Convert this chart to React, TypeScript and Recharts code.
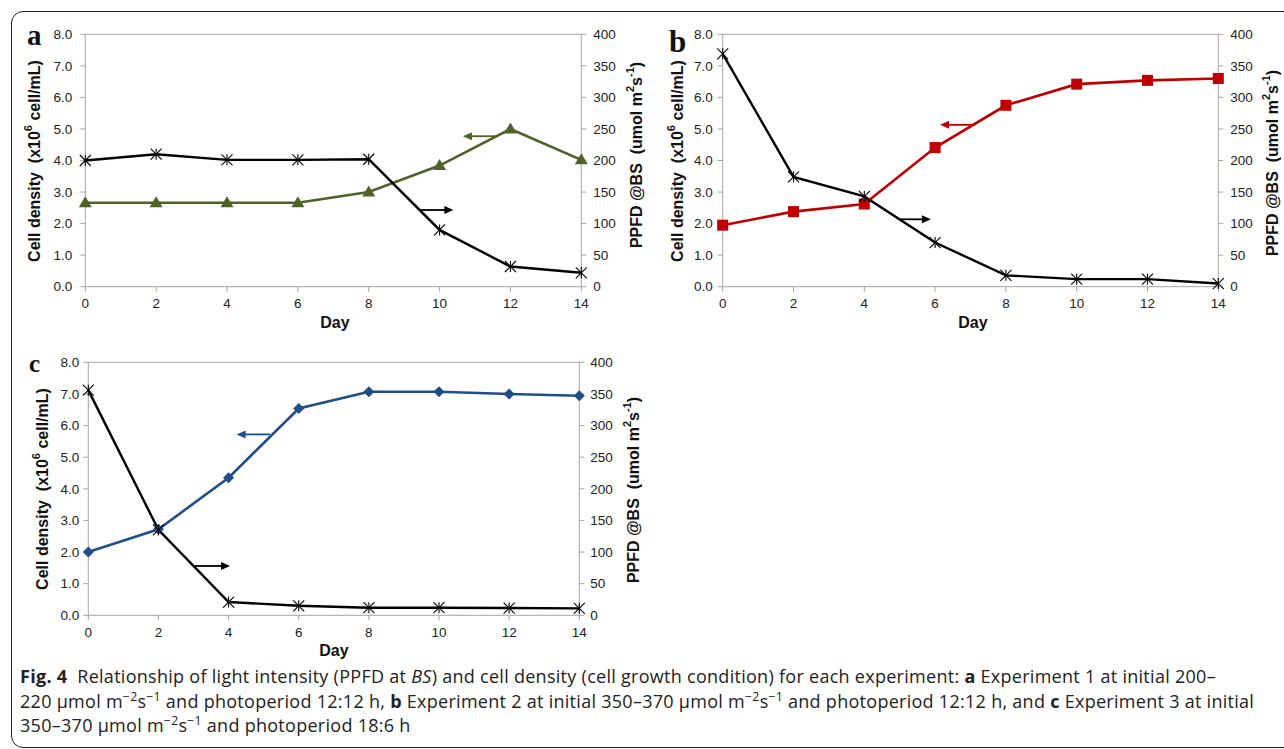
import React from 'react'
import { LineChart, Line, XAxis, YAxis, ReferenceLine } from 'recharts'

const days = [0, 2, 4, 6, 8, 10, 12, 14]
const dayTicks = [0, 2, 4, 6, 8, 10, 12, 14]
const cellTicks = [0, 1, 2, 3, 4, 5, 6, 7, 8]
const ppfdTicks = [0, 50, 100, 150, 200, 250, 300, 350, 400]

// experiment 1
const cellsA = [2.66, 2.66, 2.66, 2.66, 3.0, 3.84, 5.0, 4.02]
const ppfdA = [200, 210, 201, 201, 202, 90, 32, 22]
// experiment 2
const cellsB = [1.95, 2.38, 2.62, 4.41, 5.75, 6.42, 6.54, 6.6]
const ppfdB = [369, 174, 143, 70, 18, 12, 12, 5]
// experiment 3
const cellsC = [2.0, 2.72, 4.35, 6.54, 7.07, 7.07, 7.0, 6.94]
const ppfdC = [356, 135, 21, 15, 12, 12, 11.5, 11]

// arrows pointing to the axis each series belongs to: [fromDay, toDay, value]
const arrowCellA = [11.61, 10.66, 4.77]
const arrowPpfdA = [9.43, 10.39, 121.5]
const arrowCellB = [7.13, 6.14, 5.13]
const arrowPpfdB = [4.96, 5.88, 106.8]
const arrowCellC = [5.18, 4.23, 5.72]
const arrowPpfdC = [3.04, 4.04, 78]

const AXIS = '#a6a6a6'
const FONT = '"Liberation Sans", Arial, Helvetica, sans-serif'
const GREEN = '#4f6228'
const RED = '#c00000'
const BLUE = '#1f4e89'

const toRows = (cells: number[], ppfd: number[]) =>
  days.map((d, i) => ({ day: d, cells: cells[i], ppfd: ppfd[i] }))

const Star = (p: any) => {
  const { cx, cy } = p
  if (cx == null || cy == null) return <g key={p.index} />
  const r = 5.5
  return (
    <g key={p.index} stroke="#000" strokeWidth={1.1}>
      <line x1={cx - r} y1={cy - r} x2={cx + r} y2={cy + r} />
      <line x1={cx - r} y1={cy + r} x2={cx + r} y2={cy - r} />
      <line x1={cx} y1={cy - r} x2={cx} y2={cy + r} />
    </g>
  )
}

const Triangle = (p: any) => {
  const { cx, cy } = p
  return (
    <polygon
      key={p.index}
      points={`${cx},${cy - 6.5} ${cx - 6.5},${cy + 4.5} ${cx + 6.5},${cy + 4.5}`}
      fill={GREEN}
    />
  )
}

const Square = (p: any) => {
  const { cx, cy } = p
  return <rect key={p.index} x={cx - 5.5} y={cy - 5.5} width={11} height={11} fill={RED} />
}

const Diamond = (p: any) => {
  const { cx, cy } = p
  return (
    <polygon
      key={p.index}
      points={`${cx},${cy - 5.5} ${cx + 5.5},${cy} ${cx},${cy + 5.5} ${cx - 5.5},${cy}`}
      fill={BLUE}
    />
  )
}

const arrowShape = (color: string) => (p: any) => {
  const { x1, y1, x2, y2 } = p
  const dir = x2 > x1 ? 1 : -1
  return (
    <g>
      <line x1={x1} y1={y1} x2={x2 - dir * 6} y2={y2} stroke={color} strokeWidth={1.8} />
      <polygon
        points={`${x2},${y2} ${x2 - dir * 9},${y2 - 4} ${x2 - dir * 9},${y2 + 4}`}
        fill={color}
      />
    </g>
  )
}

interface PanelProps {
  rows: { day: number; cells: number; ppfd: number }[]
  color: string
  dot: any
  arrowCell: number[]
  arrowPpfd: number[]
  width: number
  height: number
  margin: { top: number; right: number; bottom: number; left: number }
  leftTickMargin: number
  rightTickMargin: number
}

function Panel({ rows, color, dot, arrowCell, arrowPpfd, width, height, margin, leftTickMargin, rightTickMargin }: PanelProps) {
  const tick = { fontSize: 13.5, fill: '#222', fontFamily: FONT }
  return (
    <LineChart width={width} height={height} data={rows} margin={margin}>
      <XAxis
        dataKey="day"
        type="number"
        domain={[0, 14]}
        ticks={dayTicks}
        tick={tick}
        tickSize={5}
        tickMargin={7}
        height={40}
        stroke={AXIS}
        interval={0}
      />
      <YAxis
        yAxisId="left"
        domain={[0, 8]}
        ticks={cellTicks}
        tickFormatter={(v: number) => v.toFixed(1)}
        tick={tick}
        tickSize={5}
        tickMargin={leftTickMargin}
        width={66}
        stroke={AXIS}
        interval={0}
      />
      <YAxis
        yAxisId="right"
        orientation="right"
        domain={[0, 400]}
        ticks={ppfdTicks}
        tick={tick}
        tickSize={5}
        tickMargin={rightTickMargin}
        width={60}
        stroke={AXIS}
        interval={0}
      />
      <ReferenceLine yAxisId="left" y={8} stroke={AXIS} />
      <Line
        yAxisId="left"
        dataKey="cells"
        stroke={color}
        strokeWidth={2.6}
        dot={dot}
        isAnimationActive={false}
      />
      <Line
        yAxisId="right"
        dataKey="ppfd"
        stroke="#000"
        strokeWidth={2.4}
        dot={Star}
        isAnimationActive={false}
      />
      <ReferenceLine
        yAxisId="left"
        segment={[
          { x: arrowCell[0], y: arrowCell[2] },
          { x: arrowCell[1], y: arrowCell[2] },
        ]}
        shape={arrowShape(color)}
      />
      <ReferenceLine
        yAxisId="right"
        segment={[
          { x: arrowPpfd[0], y: arrowPpfd[2] },
          { x: arrowPpfd[1], y: arrowPpfd[2] },
        ]}
        shape={arrowShape('#000')}
      />
    </LineChart>
  )
}

const titleStyle = { fontFamily: FONT, fontWeight: 700, fontSize: 16, fill: '#111' } as const

function CellTitle({ x, y }: { x: number; y: number }) {
  return (
    <text transform={`translate(${x},${y}) rotate(-90)`} textAnchor="middle" dominantBaseline="central" style={titleStyle}>
      Cell density{'\u00a0\u00a0'}(x10
      <tspan dy={-6} fontSize={11}>6</tspan>
      <tspan dy={6}> cell/mL)</tspan>
    </text>
  )
}

function PpfdTitle({ x, y }: { x: number; y: number }) {
  return (
    <text transform={`translate(${x},${y}) rotate(-90)`} textAnchor="middle" dominantBaseline="central" style={titleStyle}>
      PPFD @BS{'\u00a0\u00a0'}(umol m
      <tspan dy={-6} fontSize={11}>2</tspan>
      <tspan dy={6}>s</tspan>
      <tspan dy={-6} fontSize={11}>-1</tspan>
      <tspan dy={6}>)</tspan>
    </text>
  )
}

const letterStyle = { fontFamily: '"Liberation Serif", "Times New Roman", serif', fontWeight: 700, fill: '#111' } as const

const sup = { fontSize: '0.68em', verticalAlign: 'super', lineHeight: 0 } as const

export default function App() {
  return (
    <div style={{ position: 'absolute', left: 0, top: 0, width: 1284, height: 749, background: '#fff', overflow: 'hidden' }}>
      <div
        style={{
          position: 'absolute',
          left: 11,
          top: 11,
          width: 1320,
          height: 735,
          border: '1.3px solid #222',
          borderRadius: 12,
        }}
      />
      <div style={{ position: 'absolute', left: 0, top: 0 }}>
        <Panel
          rows={toRows(cellsA, ppfdA)}
          color={GREEN}
          dot={Triangle}
          arrowCell={arrowCellA}
          arrowPpfd={arrowPpfdA}
          width={650}
          height={335}
          margin={{ top: 34.3, right: 8.7, bottom: 8.3, left: 19.3 }}
          leftTickMargin={8}
          rightTickMargin={7}
        />
      </div>
      <div style={{ position: 'absolute', left: 650, top: 0 }}>
        <Panel
          rows={toRows(cellsB, ppfdB)}
          color={RED}
          dot={Square}
          arrowCell={arrowCellB}
          arrowPpfd={arrowPpfdB}
          width={634}
          height={335}
          margin={{ top: 34.3, right: 5.7, bottom: 8.3, left: 6.7 }}
          leftTickMargin={5}
          rightTickMargin={7}
        />
      </div>
      <div style={{ position: 'absolute', left: 0, top: 335 }}>
        <Panel
          rows={toRows(cellsC, ppfdC)}
          color={BLUE}
          dot={Diamond}
          arrowCell={arrowCellC}
          arrowPpfd={arrowPpfdC}
          width={650}
          height={330}
          margin={{ top: 27.3, right: 10.7, bottom: 9.7, left: 22.3 }}
          leftTickMargin={4}
          rightTickMargin={6}
        />
      </div>
      <svg width={1284} height={749} style={{ position: 'absolute', left: 0, top: 0, pointerEvents: 'none' }}>
        <text x={27} y={45} fontSize={29} style={letterStyle}>a</text>
        <text x={669} y={52} fontSize={31} style={letterStyle}>b</text>
        <text x={29} y={372} fontSize={25} style={letterStyle}>c</text>

        <CellTitle x={34} y={161} />
        <PpfdTitle x={636} y={155} />
        <CellTitle x={677} y={161} />
        <PpfdTitle x={1272} y={163} />
        <CellTitle x={42} y={489} />
        <PpfdTitle x={633} y={490} />

        <text x={335} y={322} textAnchor="middle" dominantBaseline="central" style={titleStyle}>Day</text>
        <text x={973} y={322} textAnchor="middle" dominantBaseline="central" style={titleStyle}>Day</text>
        <text x={334} y={650} textAnchor="middle" dominantBaseline="central" style={titleStyle}>Day</text>
      </svg>
      <div
        style={{
          position: 'absolute',
          left: 20,
          top: 664,
          fontFamily: '"Open Sans", "Noto Sans", sans-serif',
          fontSize: 18,
          lineHeight: '24.5px',
          color: '#222',
          whiteSpace: 'nowrap',
          letterSpacing: 0.28,
        }}
      >
        <div>
          <b>Fig. 4</b>{'\u00a0\u00a0'}Relationship of light intensity (PPFD at <i>BS</i>) and cell density (cell growth condition) for each
          experiment: <b>a</b> Experiment 1 at initial 200–
        </div>
        <div>
          220 µmol m<span style={sup}>−2</span>s<span style={sup}>−1</span> and photoperiod 12:12 h, <b>b</b> Experiment 2 at initial
          350–370 µmol m<span style={sup}>−2</span>s<span style={sup}>−1</span> and photoperiod 12:12 h, and <b>c</b> Experiment 3 at
          initial
        </div>
        <div>
          350–370 µmol m<span style={sup}>−2</span>s<span style={sup}>−1</span> and photoperiod 18:6 h
        </div>
      </div>
    </div>
  )
}
